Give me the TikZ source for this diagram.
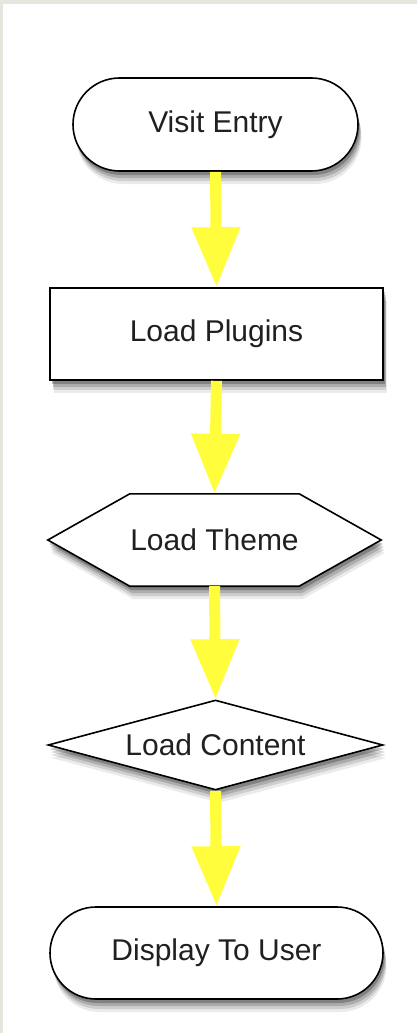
\documentclass[tikz,border=0pt]{standalone}
\usepackage{fontspec}
\setmainfont{Liberation Sans}
\usetikzlibrary{shapes.geometric,shapes.misc,shadows,arrows.meta,backgrounds}

\definecolor{pagegray}{RGB}{230,230,222}
\definecolor{flowyellow}{RGB}{255,253,60}
\definecolor{labelgray}{RGB}{32,32,32}

\tikzset{
	boxshadow/.style={
		general shadow={fill=black,opacity=.08,shadow xshift=3.5pt,shadow yshift=-13pt},
		general shadow={fill=black,opacity=.12,shadow xshift=3pt,shadow yshift=-10pt},
		general shadow={fill=black,opacity=.16,shadow xshift=2.5pt,shadow yshift=-7pt},
		general shadow={fill=black,opacity=.24,shadow xshift=1.5pt,shadow yshift=-4pt}},
	boxlabel/.style={text=labelgray,font=\fontsize{30}{32}\selectfont,inner sep=0pt},
	flowbox/.style={boxlabel,draw=black,line width=1.6pt,fill=white,boxshadow},
	terminal/.style={flowbox,rounded rectangle,minimum width=285pt,minimum height=93pt},
	process/.style={flowbox,rectangle,minimum width=333pt,minimum height=92pt},
	decision/.style={flowbox,diamond,aspect=3.72,minimum width=335pt,minimum height=90pt},
	hexlabel/.style={boxlabel,minimum width=333pt,minimum height=92pt},
	hexbox/.style={draw=black,line width=1.6pt,fill=white,line join=miter,boxshadow},
	flow/.style={color=flowyellow,line width=11pt,-{Triangle[width=46pt,length=60pt]}}
}

\begin{document}
\begin{tikzpicture}[x=1pt,y=-1pt]
		\useasboundingbox (0,0) rectangle (417,1033);
		\begin{scope}[on background layer]
			\fill[pagegray] (0,0) rectangle (417,1033);
			\fill[white] (3,4) rectangle (417,1033);
		\end{scope}

		\node[terminal] (entry) at (215.5,124.5) {Visit Entry};
		\node[process] (plugins) at (216.5,334) {Load Plugins};
		\node[hexlabel] (theme) at (214.5,540) {Load Theme};
		\node[decision] (content) at (215.5,745) {Load Content};
		\node[terminal,minimum width=333pt,minimum height=92pt] (user) at (216.5,953) {Display To User};

		\begin{scope}[on background layer]
			\draw[hexbox] ([xshift=82pt]theme.north west) -- ([xshift=-82pt]theme.north east) -- (theme.east)
				-- ([xshift=-82pt]theme.south east) -- ([xshift=82pt]theme.south west) -- (theme.west) -- cycle;
		\end{scope}

		\draw[flow] (entry.south) -- (plugins.north);
		\draw[flow] (plugins.south) -- (theme.north);
		\draw[flow] (theme.south) -- (content.north);
		\draw[flow] (content.south) -- (user.north);
\end{tikzpicture}
\end{document}
